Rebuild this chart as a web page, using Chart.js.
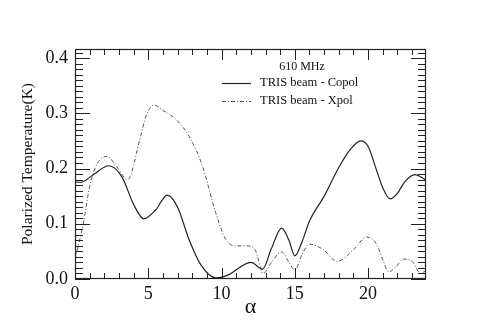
<!DOCTYPE html>
<html>
<head>
<meta charset="utf-8">
<script src="https://cdn.jsdelivr.net/npm/chart.js@4/dist/chart.umd.min.js"></script>
<style>
html,body{margin:0;padding:0;background:#fff;}
#wrap{width:502px;height:329px;position:relative;}
</style>
</head>
<body>
<div id="wrap"><canvas id="c" width="502" height="329"></canvas></div>
<script>
// ---- data ----
const copolX = [0, 0.4, 1.2, 2.3, 3.2, 4.0, 4.7, 5.5, 6.3, 7.0, 7.8, 8.6, 9.6, 10.5, 11.3, 12.0, 12.8, 13.4, 14.1, 14.6, 15.0, 15.5, 16.0, 17.0, 18.0, 18.8, 19.5, 20.0, 20.6, 21.0, 21.5, 22.0, 22.5, 23.2, 23.9];
const copolY = [0.176, 0.175, 0.188, 0.205, 0.185, 0.135, 0.109, 0.125, 0.152, 0.130, 0.070, 0.025, 0.002, 0.008, 0.022, 0.030, 0.018, 0.055, 0.092, 0.070, 0.042, 0.068, 0.105, 0.150, 0.202, 0.235, 0.250, 0.240, 0.195, 0.165, 0.145, 0.155, 0.176, 0.189, 0.180];
const xpolX = [0, 0.6, 1.0, 1.5, 2.2, 2.8, 3.6, 4.4, 4.85, 5.4, 6.0, 6.5, 7.0, 7.9, 8.7, 9.6, 10.3, 11.0, 11.7, 12.3, 12.85, 13.4, 14.1, 14.6, 15.0, 15.5, 16.0, 16.9, 17.9, 19.0, 19.9, 20.6, 21.0, 21.4, 21.9, 22.4, 23.0, 23.6, 23.9];
const xpolY = [0.035, 0.105, 0.168, 0.208, 0.222, 0.205, 0.180, 0.250, 0.295, 0.315, 0.305, 0.297, 0.286, 0.253, 0.204, 0.120, 0.071, 0.060, 0.060, 0.052, 0.010, 0.030, 0.049, 0.030, 0.016, 0.045, 0.063, 0.054, 0.032, 0.053, 0.076, 0.062, 0.035, 0.013, 0.022, 0.036, 0.032, 0.010, 0.015];
const xTicks = [0, 5, 10, 15, 20];
const yTicks = [0.0, 0.1, 0.2, 0.3, 0.4];
const legendTitle = "610 MHz";
const seriesNames = ["TRIS beam - Copol", "TRIS beam - Xpol"];
const xTitle = "\u03b1";
const yTitle = "Polarized Temperature(K)";

const SERIF = "'Liberation Serif', 'Times New Roman', serif";
const toPts = (xs, ys) => xs.map((x, i) => ({x: x, y: ys[i]}));

const framePlugin = {
  id: 'frame',
  afterDatasetsDraw(chart) {
    const {ctx, chartArea: a, scales} = chart;
    const xs = scales.x, ys = scales.y;
    ctx.save();
    ctx.strokeStyle = '#222';
    ctx.lineWidth = 1;
    ctx.beginPath();
    // x ticks (minor every 1, major every 5), bottom and top, inward
    for (let v = 0; v <= 24; v += 1) {
      const px = Math.round(xs.getPixelForValue(v)) + 0.5;
      if (px > a.right) break;
      const len = (v % 5 === 0) ? 11 : 6;
      ctx.moveTo(px, a.bottom); ctx.lineTo(px, a.bottom - len);
      ctx.moveTo(px, a.top); ctx.lineTo(px, a.top + len);
    }
    // y ticks (minor every 0.01, major every 0.1), left and right
    for (let i = 0; i <= 41; i++) {
      const v = i / 100;
      const py = Math.round(ys.getPixelForValue(v)) + 0.5;
      if (py < a.top) break;
      const len = (i % 10 === 0) ? 15 : 8;
      ctx.moveTo(a.left, py); ctx.lineTo(a.left + len, py);
      ctx.moveTo(a.right, py); ctx.lineTo(a.right - len, py);
    }
    ctx.stroke();
    ctx.lineWidth = 1.2;
    ctx.strokeRect(a.left + 0.5, a.top + 0.5, a.right - a.left - 1, a.bottom - a.top - 1);

    // legend inside plot
    ctx.fillStyle = '#111';
    ctx.font = '12px ' + SERIF;
    ctx.textBaseline = 'middle';
    ctx.textAlign = 'center';
    ctx.fillText(legendTitle, 302, 67);
    ctx.textAlign = 'left';
    ctx.font = '12.5px ' + SERIF;
    ctx.fillText(seriesNames[0], 260, 83);
    ctx.fillText(seriesNames[1], 260, 101);
    ctx.lineWidth = 1.2;
    ctx.strokeStyle = '#222';
    ctx.beginPath(); ctx.moveTo(222, 83.5); ctx.lineTo(251, 83.5); ctx.stroke();
    ctx.lineWidth = 1;
    ctx.strokeStyle = '#555';
    ctx.setLineDash([4, 2, 1, 2]);
    ctx.beginPath(); ctx.moveTo(222, 101.5); ctx.lineTo(251, 101.5); ctx.stroke();
    ctx.restore();
  }
};

new Chart(document.getElementById('c'), {
  type: 'scatter',
  data: {
    datasets: [
      { label: seriesNames[0], data: toPts(copolX, copolY), showLine: true, borderColor: '#222', borderWidth: 1.2, pointRadius: 0, cubicInterpolationMode: 'monotone', fill: false },
      { label: seriesNames[1], data: toPts(xpolX, xpolY), showLine: true, borderColor: '#555', borderWidth: 1, borderDash: [4, 2, 1, 2], pointRadius: 0, cubicInterpolationMode: 'monotone', fill: false }
    ]
  },
  options: {
    responsive: false,
    animation: false,
    devicePixelRatio: 1,
    layout: { padding: { left: 0, top: 49, right: 76, bottom: 0 } },
    plugins: { legend: { display: false }, tooltip: { enabled: false } },
    scales: {
      x: {
        type: 'linear', min: 0, max: 23.95,
        afterFit(s) { s.height = 50; },
        afterBuildTicks(s) { s.ticks = xTicks.map(v => ({value: v})); },
        grid: { display: false, drawTicks: false },
        border: { display: false },
        ticks: { font: { family: SERIF, size: 18 }, color: '#111', padding: 4, maxRotation: 0, callback: v => String(v) },
        title: { display: true, text: xTitle, font: { family: SERIF, size: 22 }, color: '#111', padding: { top: 0, bottom: 9 } }
      },
      y: {
        type: 'linear', min: 0, max: 0.4164,
        afterFit(s) { s.width = 75; },
        afterBuildTicks(s) { s.ticks = yTicks.map(v => ({value: v})); },
        grid: { display: false, drawTicks: false },
        border: { display: false },
        ticks: { font: { family: SERIF, size: 18 }, color: '#111', padding: 7, callback: v => Number(v).toFixed(1) },
        title: { display: true, text: yTitle, font: { family: SERIF, size: 15.5 }, color: '#111', padding: { top: 19, bottom: 0 } }
      }
    }
  },
  plugins: [framePlugin]
});
</script>
</body>
</html>
